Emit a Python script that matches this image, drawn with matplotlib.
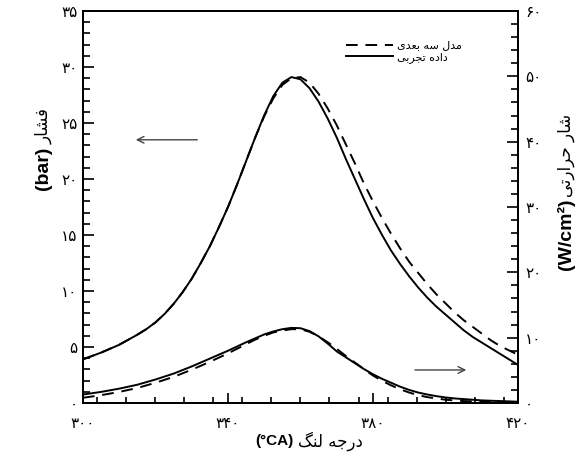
# Pressure and heat flux vs crank angle (Persian labels)
import matplotlib
matplotlib.use('Agg')
import matplotlib.pyplot as plt
from matplotlib.ticker import MultipleLocator, FixedLocator

# ---- data ----
ca = [300, 302.5, 305, 307.5, 310, 312.5, 315, 317.5, 320, 322.5, 325, 327.5,
      330, 332.5, 335, 337.5, 340, 342.5, 345, 347.5, 350, 352.5, 355, 357.5,
      360, 362.5, 365, 367.5, 370, 372.5, 375, 377.5, 380, 382.5, 385, 387.5,
      390, 392.5, 395, 397.5, 400, 402.5, 405, 407.5, 410, 412.5, 415, 417.5, 420]
p_exp = [3.9, 4.2, 4.5, 4.85, 5.2, 5.65, 6.1, 6.6, 7.2, 7.95, 8.85, 9.9,
         11.1, 12.5, 14.0, 15.7, 17.5, 19.5, 21.6, 23.7, 25.7, 27.4, 28.6, 29.1,
         28.9, 28.1, 26.9, 25.4, 23.7, 21.8, 20.0, 18.2, 16.5, 15.0, 13.6, 12.4,
         11.3, 10.3, 9.4, 8.6, 7.9, 7.2, 6.5, 5.9, 5.4, 4.9, 4.4, 3.9, 3.4]
p_model = [3.9, 4.2, 4.5, 4.85, 5.2, 5.65, 6.1, 6.6, 7.2, 7.95, 8.85, 9.9,
           11.1, 12.5, 14.0, 15.7, 17.5, 19.5, 21.6, 23.7, 25.6, 27.2, 28.4, 29.0,
           29.1, 28.6, 27.6, 26.3, 24.8, 23.1, 21.4, 19.6, 18.0, 16.5, 15.1, 13.8,
           12.6, 11.6, 10.6, 9.7, 8.9, 8.1, 7.4, 6.8, 6.2, 5.6, 5.1, 4.7, 4.3]
q_exp = [1.3, 1.5, 1.7, 1.95, 2.2, 2.5, 2.8, 3.2, 3.6, 4.05, 4.5, 5.05,
         5.6, 6.2, 6.8, 7.4, 8.0, 8.65, 9.3, 9.9, 10.5, 10.95, 11.3, 11.5,
         11.45, 11.0, 10.2, 9.1, 7.9, 7.0, 6.1, 5.2, 4.4, 3.7, 3.1, 2.5,
         2.0, 1.6, 1.3, 1.05, 0.85, 0.7, 0.6, 0.5, 0.4, 0.35, 0.3, 0.25, 0.2]
q_model = [0.8, 1.0, 1.2, 1.45, 1.7, 2.0, 2.3, 2.7, 3.1, 3.55, 4.0, 4.55,
           5.1, 5.7, 6.3, 6.95, 7.6, 8.3, 9.0, 9.7, 10.3, 10.8, 11.1, 11.3,
           11.3, 10.9, 10.2, 9.3, 8.3, 7.2, 6.2, 5.2, 4.2, 3.4, 2.7, 2.1,
           1.6, 1.2, 0.9, 0.7, 0.5, 0.4, 0.3, 0.25, 0.2, 0.15, 0.1, 0.1, 0.1]

x_ticks = [300, 340, 380, 420]
x_labels = ['۳۰۰', '۳۴۰', '۳۸۰', '۴۲۰']
p_ticks = [0, 5, 10, 15, 20, 25, 30, 35]
p_labels = ['۰', '۵', '۱۰', '۱۵', '۲۰', '۲۵', '۳۰', '۳۵']
q_ticks = [0, 10, 20, 30, 40, 50, 60]
q_labels = ['۰', '۱۰', '۲۰', '۳۰', '۴۰', '۵۰', '۶۰']

# ---- tiny persian shaper (matplotlib has no arabic shaping) ----
FORMS = {
    'ا': ('\uFE8D', '\uFE8E', None, None),
    'ب': ('\uFE8F', '\uFE90', '\uFE91', '\uFE92'),
    'ت': ('\uFE95', '\uFE96', '\uFE97', '\uFE98'),
    'ج': ('\uFE9D', '\uFE9E', '\uFE9F', '\uFEA0'),
    'ح': ('\uFEA1', '\uFEA2', '\uFEA3', '\uFEA4'),
    'د': ('\uFEA9', '\uFEAA', None, None),
    'ر': ('\uFEAD', '\uFEAE', None, None),
    'س': ('\uFEB1', '\uFEB2', '\uFEB3', '\uFEB4'),
    'ش': ('\uFEB5', '\uFEB6', '\uFEB7', '\uFEB8'),
    'ع': ('\uFEC9', '\uFECA', '\uFECB', '\uFECC'),
    'ف': ('\uFED1', '\uFED2', '\uFED3', '\uFED4'),
    'ل': ('\uFEDD', '\uFEDE', '\uFEDF', '\uFEE0'),
    'م': ('\uFEE1', '\uFEE2', '\uFEE3', '\uFEE4'),
    'ن': ('\uFEE5', '\uFEE6', '\uFEE7', '\uFEE8'),
    'ه': ('\uFEE9', '\uFEEA', '\uFEEB', '\uFEEC'),
    'ی': ('\uFBFC', '\uFBFD', '\uFBFE', '\uFBFF'),
    'گ': ('\uFB92', '\uFB93', '\uFB94', '\uFB95'),
}


def fa(text):
    out = []
    for i, c in enumerate(text):
        if c not in FORMS:
            out.append(c)
            continue
        prev = text[i - 1] if i > 0 else ''
        nxt = text[i + 1] if i + 1 < len(text) else ''
        jp = prev in FORMS and FORMS[prev][2] is not None
        jn = nxt in FORMS and FORMS[c][2] is not None
        iso, fin, ini, med = FORMS[c]
        if jp and jn:
            out.append(med)
        elif jp:
            out.append(fin)
        elif jn:
            out.append(ini)
        else:
            out.append(iso)
    return ''.join(reversed(out))


plt.rcParams['font.family'] = ['DejaVu Sans']

fig = plt.figure(figsize=(5.75, 4.54), dpi=100)
ax = fig.add_axes([0.1443, 0.1123, 0.7566, 0.8635])
ax2 = ax.twinx()

dash = (0, (6, 4))
l_exp, = ax.plot(ca, p_exp, color='black', lw=1.4)
l_mod, = ax.plot(ca, p_model, color='black', lw=1.4, linestyle=dash)
ax2.plot(ca, q_exp, color='black', lw=1.4)
ax2.plot(ca, q_model, color='black', lw=1.4, linestyle=dash)

ax.set_xlim(300, 420)
ax.set_ylim(0, 35)
ax2.set_ylim(0, 60)

ax.xaxis.set_major_locator(FixedLocator(x_ticks))
ax.set_xticklabels(x_labels, fontsize=11)
ax.xaxis.set_minor_locator(MultipleLocator(8))
ax.yaxis.set_major_locator(FixedLocator(p_ticks))
ax.set_yticklabels(p_labels, fontsize=11)
ax.yaxis.set_minor_locator(MultipleLocator(1))
ax2.yaxis.set_major_locator(FixedLocator(q_ticks))
ax2.set_yticklabels(q_labels, fontsize=11)
ax2.yaxis.set_minor_locator(MultipleLocator(2))

ax.tick_params(axis='x', which='both', direction='in', top=False, pad=9, width=1.2)
ax.tick_params(axis='x', which='major', length=7)
ax.tick_params(axis='x', which='minor', length=4)
ax.tick_params(axis='y', which='both', direction='in', right=False, pad=4, width=1.2)
ax.tick_params(axis='y', which='major', length=8)
ax.tick_params(axis='y', which='minor', length=5)
ax2.tick_params(axis='y', which='both', direction='in', pad=5, width=1.2)
ax2.tick_params(axis='y', which='major', length=8)
ax2.tick_params(axis='y', which='minor', length=5)
for a in (ax, ax2):
    for s in a.spines.values():
        s.set_linewidth(1.4)

# arrows pointing at the axis of each curve pair
arrow = dict(arrowstyle='->', color='#444444', lw=1.0, mutation_scale=12)
ax.annotate('', xy=(313.8, 23.5), xytext=(332.3, 23.5), arrowprops=arrow)
ax.annotate('', xy=(406.5, 2.95), xytext=(390.8, 2.95), arrowprops=arrow)

ax2.legend([l_mod, l_exp], [fa('مدل سه بعدی'), fa('داده تجربی')],
           loc='upper left', bbox_to_anchor=(0.605, 0.925), frameon=False,
           fontsize=8, handlelength=4.2, handletextpad=0.4, labelspacing=0.15,
           borderpad=0, borderaxespad=0)

# axis titles: bold latin part + persian part
bold = dict(fontfamily='Liberation Sans', fontweight='bold')
fig.text(0.075, 0.678, '(bar)', rotation=90, ha='center', va='top', fontsize=14, **bold)
fig.text(0.075, 0.682, fa('فشار'), rotation=90, ha='center', va='bottom', fontsize=12)
fig.text(0.985, 0.562, '(W/cm²)', rotation=90, ha='center', va='top', fontsize=14, **bold)
fig.text(0.985, 0.566, fa('شار حرارتی'), rotation=90, ha='center', va='bottom', fontsize=12)
fig.text(0.510, 0.029, '(°CA)', ha='right', va='center', fontsize=11, **bold)
fig.text(0.518, 0.029, fa('درجه لنگ'), ha='left', va='center', fontsize=12)

fig.savefig('out.png', dpi=100)
